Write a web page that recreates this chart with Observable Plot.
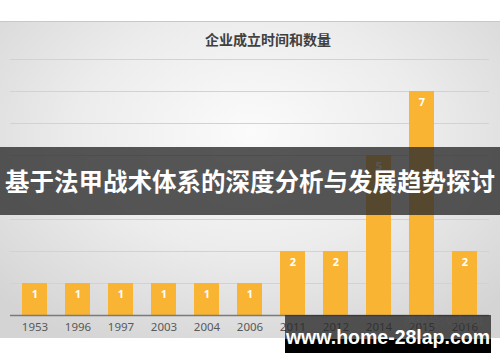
<!DOCTYPE html>
<html>
<head>
<meta charset="utf-8">
<script src="https://cdn.jsdelivr.net/npm/d3@7"></script>
<script src="https://cdn.jsdelivr.net/npm/@observablehq/plot@0.6"></script>
<style>
  html, body { margin: 0; padding: 0; background: #fff; }
  #wrap { position: relative; width: 500px; height: 362px; overflow: hidden; font-family: "Noto Sans CJK SC", "Noto Sans", sans-serif; }
  #panel { position: absolute; left: 0; top: 21px; width: 500px; height: 317px;
    background: radial-gradient(ellipse 70% 75% at 50% 35%, #fbfbfb 0%, #ececec 50%, #d4d4d4 100%);
    border-top: 1px solid #c8c8c8; box-sizing: border-box; }
  #title { position: absolute; top: 29px; left: 168px; width: 200px; text-align: center; font-size: 14px; font-weight: bold; color: #404040; white-space: nowrap; }
  #chart { position: absolute; left: 0; top: 0; }
  #banner { position: absolute; left: 0; top: 147px; width: 500px; height: 68px; background: rgba(45,45,45,0.8);
    color: #fff; font-weight: bold; font-size: 24.5px; line-height: 68px; text-align: center; white-space: nowrap; }
  #wm { position: absolute; left: 285px; top: 315px; width: 206px; height: 38px;
    background: linear-gradient(to bottom, rgba(40,40,40,0.78) 0%, rgba(40,40,40,0.78) 63%, #000 64%, #000 100%);
    color: #fff; font-family: "Liberation Sans", Arial, sans-serif; font-weight: bold; font-size: 19.5px; text-align: center; line-height: 44px; white-space: nowrap; }
</style>
</head>
<body>
<div id="wrap">
  <div id="panel"></div>
  <div id="title">企业成立时间和数量</div>
  <div id="chart"></div>
  <div id="banner">基于法甲战术体系的深度分析与发展趋势探讨</div>
  <div id="wm">www.home-28lap.com</div>
</div>
<script>
const years = ["1953","1996","1997","2003","2004","2006","2011","2012","2014","2015","2016"];
const counts = [1,1,1,1,1,1,2,2,5,7,2];
const yTicks = [0,1,2,3,4,5,6,7,8];

const data = years.map((y, i) => ({year: y, count: counts[i]}));

const chart = Plot.plot({
  width: 500,
  height: 362,
  marginTop: 59,
  marginBottom: 47,
  marginLeft: 10,
  marginRight: 11,
  style: {background: "transparent", fontFamily: "'Noto Sans', 'DejaVu Sans', sans-serif"},
  x: {domain: years, paddingInner: 0.43, paddingOuter: 0.22, label: null},
  y: {domain: [0, 8], axis: null},
  marks: [
    Plot.ruleY(yTicks.filter(d => d > 0), {stroke: "#d2d2d2", strokeWidth: 1}),
    Plot.barY(data, {x: "year", y: "count", fill: "#F8B432"}),
    Plot.ruleY([0], {stroke: "#7a7a7a", strokeWidth: 1.5}),
    Plot.text(data, {x: "year", y: "count", text: d => String(d.count), dy: 11, fill: "#fff", fontWeight: "bold", fontSize: 11}),
    Plot.axisX({tickSize: 0, tickPadding: 7, fontSize: 11.5, color: "#595959"}),
    Plot.text(["微信号: vcbeat"], {frameAnchor: "bottom-right", dx: -6, dy: 9, fill: "#ffffff", fillOpacity: 0.45, fontSize: 12, textAnchor: "end"})
  ]
});
document.getElementById("chart").appendChild(chart);
</script>
</body>
</html>
